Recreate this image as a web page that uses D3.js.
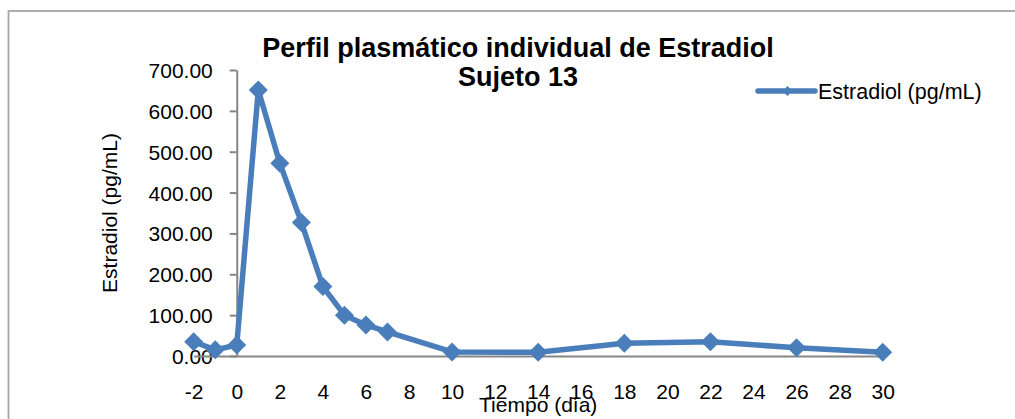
<!DOCTYPE html>
<html>
<head>
<meta charset="utf-8">
<script src="https://cdn.jsdelivr.net/npm/d3@7"></script>
<style>
  body { margin: 0; background: #fff; }
  svg { display: block; font-family: "Liberation Sans", Arial, sans-serif; }
  .axis path, .axis line { stroke: #868686; stroke-width: 2; }
  .axis text { fill: #000; font-size: 21px; }
</style>
</head>
<body>
<svg width="1015" height="419"></svg>
<script>
// data
var days = [-2, -1, 0, 1, 2, 3, 4, 5, 6, 7, 10, 14, 18, 22, 26, 30]
var estradiol = [35, 15, 27, 651, 472, 327, 170, 100, 76, 59, 10, 9, 31, 35, 20, 9]
var xTicks = [-2, 0, 2, 4, 6, 8, 10, 12, 14, 16, 18, 20, 22, 24, 26, 28, 30]
var yTicks = [0, 100, 200, 300, 400, 500, 600, 700]

var titleLines = ["Perfil plasmático individual de Estradiol", "Sujeto 13"]
var seriesName = "Estradiol (pg/mL)"
var xTitle = "Tiempo (día)"
var yTitle = "Estradiol (pg/mL)"

var blue = "#4a7ebb"

var svg = d3.select("svg"),
	width = +svg.attr("width"),
	height = +svg.attr("height")

var margin = {left: 193.7, right: 882.7, top: 70, bottom: 356}

var x = d3.scaleLinear().domain([-2, 30]).range([margin.left, margin.right])
var y = d3.scaleLinear().domain([0, 700]).range([margin.bottom, margin.top])

// outer frame (runs off the right and bottom edge)
svg.append("rect")
	.attr("x", 8.5).attr("y", 11)
	.attr("width", width + 20).attr("height", height + 20)
	.attr("fill", "none")
	.attr("stroke", "#a6a6a6")
	.attr("stroke-width", 1.8)

// title
svg.append("text")
	.attr("text-anchor", "middle")
	.style("font-weight", "bold")
	.style("font-size", "27px")
	.selectAll("tspan")
	.data(titleLines).enter()
	.append("tspan")
	.attr("x", 518)
	.attr("y", (d, i) => 56.7 + i * 29)
	.text(d => d)

// y axis sits at x = 0
svg.append("g")
	.attr("class", "axis")
	.attr("transform", "translate(" + x(0) + ",0)")
	.call(d3.axisLeft(y)
		.tickValues(yTicks)
		.tickFormat(d3.format(".2f"))
		.tickSizeInner(7)
		.tickSizeOuter(0)
		.tickPadding(17))
	.call(g => g.selectAll("text").attr("dy", "0.36em"))

// x axis at y = 0, no tick marks
svg.append("g")
	.attr("class", "axis")
	.attr("transform", "translate(0," + y(0) + ")")
	.call(d3.axisBottom(x)
		.tickValues(xTicks)
		.tickFormat(d => String(d))
		.tickSize(0)
		.tickPadding(28))
	.call(g => g.selectAll(".tick line").remove())

// axis titles (x title overlaps the tick labels, as in the original)
svg.append("text")
	.attr("text-anchor", "middle")
	.style("font-size", "21px")
	.attr("x", (margin.left + margin.right) / 2)
	.attr("y", 411.7)
	.text(xTitle)

svg.append("text")
	.attr("text-anchor", "middle")
	.style("font-size", "21px")
	.attr("transform", "translate(117," + (margin.top + margin.bottom) / 2 + ") rotate(-90)")
	.text(yTitle)

// series
var pts = days.map((d, i) => [d, estradiol[i]])

svg.append("path")
	.datum(pts)
	.attr("fill", "none")
	.attr("stroke", blue)
	.attr("stroke-width", 5.5)
	.attr("stroke-linejoin", "round")
	.attr("d", d3.line().x(d => x(d[0])).y(d => y(d[1])))

function diamond(r) { return "M0," + (-r) + "L" + r + ",0L0," + r + "L" + (-r) + ",0Z" }

svg.append("g").selectAll("path")
	.data(pts).enter()
	.append("path")
	.attr("transform", d => "translate(" + x(d[0]) + "," + y(d[1]) + ")")
	.attr("d", diamond(9.5))
	.attr("fill", blue)

// legend
var leg = svg.append("g").attr("transform", "translate(758,91)")
leg.append("line")
	.attr("x1", 0).attr("x2", 57)
	.attr("stroke", blue)
	.attr("stroke-width", 5.5)
	.attr("stroke-linecap", "round")
leg.append("path")
	.attr("transform", "translate(29.5,0)")
	.attr("d", diamond(5))
	.attr("fill", blue)
leg.append("text")
	.attr("x", 60)
	.attr("y", 7.5)
	.style("font-size", "21.5px")
	.text(seriesName)
</script>
</body>
</html>
